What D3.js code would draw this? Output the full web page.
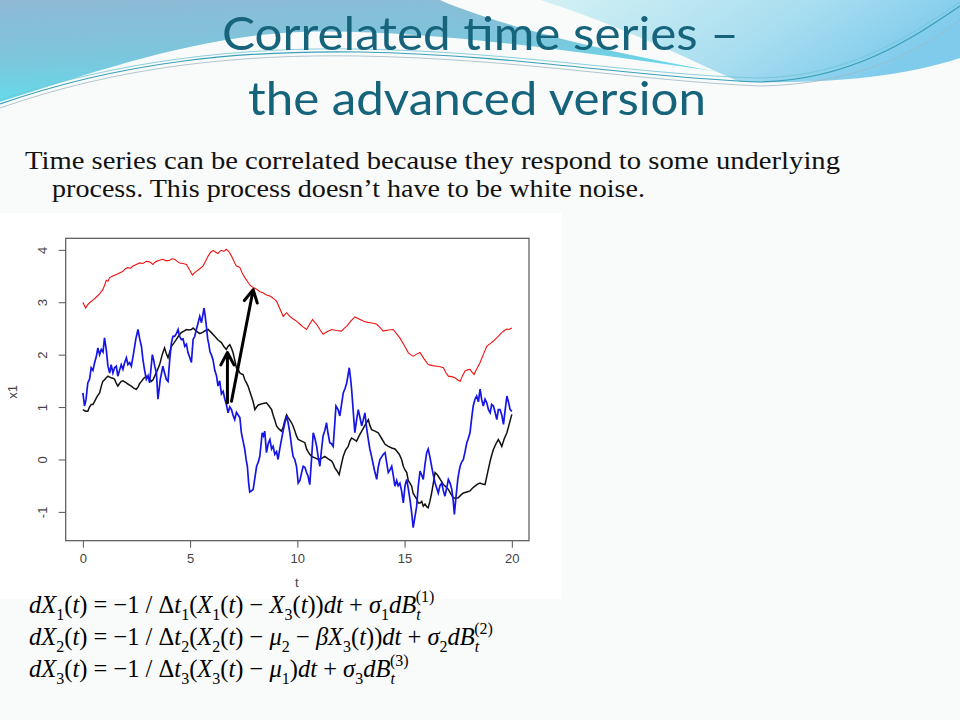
<!DOCTYPE html>
<html>
<head>
<meta charset="utf-8">
<script src="https://cdn.jsdelivr.net/npm/d3@7"></script>
<style>
  body { margin: 0; background: #fff; }
  svg { display: block; }
</style>
</head>
<body>
<div id="slide"></div>
<script>
// ---- data (t, value) ----
const xTicks = [0, 5, 10, 15, 20];
const yTicks = [-1, 0, 1, 2, 3, 4];

const redSeries = [
  [0,3.00],[0.13,2.89],[0.22,2.95],[0.31,2.99],[0.47,3.04],[0.63,3.10],[0.78,3.16],[0.93,3.24],
  [1.01,3.32],[1.09,3.42],[1.17,3.40],[1.25,3.47],[1.40,3.50],[1.56,3.53],[1.71,3.56],[1.87,3.59],
  [1.98,3.64],[2.10,3.66],[2.22,3.65],[2.33,3.69],[2.49,3.72],[2.65,3.75],[2.80,3.74],[2.96,3.78],
  [3.11,3.77],[3.27,3.72],[3.35,3.76],[3.43,3.78],[3.58,3.80],[3.73,3.82],[3.89,3.79],[4.05,3.80],
  [4.16,3.83],[4.28,3.82],[4.40,3.78],[4.51,3.75],[4.67,3.74],[4.83,3.72],[4.97,3.62],[5.11,3.52],
  [5.20,3.56],[5.29,3.59],[5.45,3.64],[5.60,3.69],[5.72,3.78],[5.84,3.88],[5.95,3.95],[6.07,3.99],
  [6.18,3.96],[6.30,3.93],[6.38,3.97],[6.46,3.99],[6.57,3.97],[6.69,4.01],[6.77,3.98],[6.85,3.94],
  [6.93,3.88],[7.00,3.82],[7.08,3.75],[7.16,3.69],[7.24,3.68],[7.32,3.66],[7.43,3.56],[7.55,3.47],
  [7.67,3.40],[7.78,3.33],[7.94,3.28],[8.10,3.25],[8.25,3.20],[8.40,3.18],[8.56,3.14],[8.72,3.12],
  [8.80,3.10],[8.92,3.06],[9.03,3.02],[9.18,2.88],[9.34,2.73],[9.50,2.80],[9.65,2.73],[9.81,2.68],
  [9.96,2.64],[10.12,2.58],[10.27,2.53],[10.43,2.48],[10.57,2.58],[10.71,2.67],[10.80,2.62],[10.90,2.58],
  [11.05,2.48],[11.20,2.39],[11.40,2.44],[11.60,2.48],[11.83,2.46],[12.06,2.45],[12.18,2.50],[12.30,2.54],
  [12.49,2.64],[12.68,2.72],[12.88,2.68],[13.07,2.64],[13.23,2.62],[13.39,2.61],[13.55,2.60],[13.70,2.58],
  [13.85,2.52],[14.00,2.45],[14.24,2.47],[14.47,2.48],[14.62,2.40],[14.78,2.32],[14.98,2.18],[15.17,2.04],
  [15.28,2.00],[15.40,1.97],[15.56,2.01],[15.72,2.04],[15.91,1.92],[16.10,1.81],[16.30,1.79],[16.50,1.78],
  [16.66,1.77],[16.81,1.75],[16.92,1.66],[17.04,1.59],[17.20,1.58],[17.35,1.56],[17.47,1.52],[17.59,1.49],
  [17.70,1.60],[17.82,1.69],[17.94,1.71],[18.05,1.72],[18.15,1.66],[18.24,1.62],[18.38,1.74],[18.52,1.85],
  [18.68,2.01],[18.83,2.16],[18.99,2.21],[19.14,2.26],[19.34,2.34],[19.53,2.42],[19.65,2.46],[19.77,2.49],
  [19.88,2.48],[20.00,2.51]
];

const blackSeries = [
  [0,0.95],[0.12,0.92],[0.23,0.92],[0.31,1.00],[0.39,1.05],[0.47,1.05],[0.55,1.11],[0.66,1.20],
  [0.78,1.27],[0.86,1.40],[0.93,1.49],[1.01,1.52],[1.09,1.56],[1.17,1.59],[1.25,1.57],[1.32,1.56],
  [1.40,1.55],[1.48,1.53],[1.56,1.45],[1.63,1.40],[1.71,1.45],[1.79,1.49],[1.87,1.50],[1.95,1.48],
  [2.03,1.46],[2.10,1.44],[2.18,1.42],[2.26,1.40],[2.37,1.36],[2.49,1.34],[2.57,1.38],[2.65,1.45],
  [2.73,1.49],[2.84,1.55],[2.96,1.59],[3.07,1.55],[3.19,1.49],[3.27,1.52],[3.35,1.59],[3.47,1.70],
  [3.58,1.81],[3.70,2.00],[3.81,2.13],[3.89,2.02],[3.97,1.94],[4.05,2.05],[4.13,2.16],[4.24,2.22],
  [4.36,2.29],[4.47,2.36],[4.59,2.42],[4.71,2.45],[4.83,2.48],[4.94,2.47],[5.06,2.48],[5.14,2.51],
  [5.29,2.45],[5.45,2.40],[5.60,2.43],[5.72,2.46],[5.84,2.48],[5.99,2.42],[6.15,2.35],[6.30,2.28],
  [6.46,2.23],[6.58,2.15],[6.69,2.10],[6.77,2.16],[6.85,2.19],[6.93,2.12],[7.00,2.04],[7.08,1.90],
  [7.16,1.75],[7.24,1.72],[7.32,1.65],[7.40,1.63],[7.47,1.62],[7.55,1.52],[7.63,1.46],[7.70,1.40],
  [7.78,1.30],[7.86,1.20],[7.94,1.10],[8.02,0.95],[8.10,1.00],[8.18,1.04],[8.25,1.05],[8.40,1.07],
  [8.56,1.08],[8.68,1.02],[8.80,0.95],[8.87,0.85],[8.95,0.75],[9.03,0.64],[9.10,0.60],[9.18,0.57],
  [9.26,0.54],[9.34,0.62],[9.42,0.75],[9.50,0.85],[9.57,0.80],[9.65,0.75],[9.73,0.70],[9.80,0.64],
  [9.88,0.55],[9.96,0.45],[10.04,0.38],[10.20,0.35],[10.35,0.32],[10.43,0.20],[10.50,0.15],[10.58,0.10],
  [10.66,0.06],[10.82,0.03],[10.97,0.00],[11.13,0.02],[11.28,0.06],[11.44,0.01],[11.60,-0.03],[11.67,-0.08],
  [11.75,-0.16],[11.85,-0.22],[11.95,-0.29],[12.05,-0.10],[12.14,0.06],[12.25,0.18],[12.37,0.25],[12.45,0.35],
  [12.53,0.41],[12.65,0.38],[12.76,0.35],[12.88,0.45],[13.00,0.54],[13.15,0.65],[13.31,0.76],[13.38,0.65],
  [13.46,0.57],[13.62,0.54],[13.77,0.51],[13.93,0.40],[14.09,0.29],[14.24,0.25],[14.40,0.22],[14.55,0.20],
  [14.63,0.16],[14.75,0.10],[14.86,0.00],[14.94,-0.13],[15.02,-0.20],[15.10,-0.25],[15.17,-0.40],[15.25,-0.45],
  [15.33,-0.51],[15.40,-0.65],[15.48,-0.70],[15.56,-0.75],[15.64,-0.83],[15.72,-0.83],[15.80,-0.80],[15.87,-0.89],
  [15.95,-0.85],[16.03,-0.90],[16.10,-0.92],[16.18,-0.80],[16.26,-0.64],[16.34,-0.45],[16.42,-0.25],[16.50,-0.28],
  [16.57,-0.32],[16.69,-0.40],[16.81,-0.48],[16.92,-0.52],[17.04,-0.57],[17.15,-0.65],[17.27,-0.73],[17.38,-0.74],
  [17.50,-0.73],[17.62,-0.68],[17.74,-0.64],[17.90,-0.62],[18.05,-0.60],[18.16,-0.55],[18.28,-0.51],[18.40,-0.47],
  [18.52,-0.45],[18.63,-0.47],[18.75,-0.48],[18.87,-0.25],[18.99,-0.03],[19.06,0.08],[19.14,0.19],[19.26,0.30],
  [19.37,0.38],[19.45,0.32],[19.53,0.25],[19.65,0.40],[19.77,0.51],[19.88,0.68],[20.00,0.86]
];

const blueSeries = [
  [0,1.27],[0.08,1.02],[0.15,1.15],[0.23,1.46],[0.31,1.53],[0.39,1.75],[0.47,1.70],[0.55,1.85],
  [0.63,1.97],[0.70,2.13],[0.78,2.00],[0.86,2.10],[0.94,2.05],[1.01,2.32],[1.09,2.10],[1.17,1.78],
  [1.25,1.65],[1.32,1.81],[1.40,1.65],[1.48,1.75],[1.56,1.78],[1.63,1.59],[1.71,1.70],[1.79,1.81],
  [1.87,1.72],[1.95,1.85],[2.03,1.94],[2.10,1.81],[2.18,1.85],[2.26,1.78],[2.37,2.04],[2.47,2.30],
  [2.57,2.48],[2.65,2.30],[2.73,2.16],[2.80,1.91],[2.88,1.70],[2.96,1.53],[3.04,1.60],[3.11,1.46],
  [3.18,1.75],[3.24,2.00],[3.30,1.90],[3.35,1.78],[3.43,1.65],[3.50,1.15],[3.56,1.35],[3.61,1.53],
  [3.67,1.65],[3.73,1.78],[3.81,1.65],[3.89,1.53],[3.97,1.49],[4.05,1.90],[4.13,2.23],[4.20,2.35],
  [4.28,2.35],[4.36,2.40],[4.44,2.48],[4.51,2.35],[4.59,2.29],[4.67,2.30],[4.75,2.16],[4.83,2.20],
  [4.90,2.04],[4.98,1.95],[5.06,1.85],[5.14,2.29],[5.22,2.35],[5.29,2.48],[5.37,2.60],[5.45,2.73],
  [5.53,2.61],[5.59,2.75],[5.65,2.89],[5.70,2.75],[5.76,2.54],[5.82,2.30],[5.87,2.20],[5.93,2.05],
  [5.99,2.00],[6.07,1.90],[6.15,1.70],[6.23,1.60],[6.30,1.40],[6.38,1.50],[6.46,1.25],[6.54,1.30],
  [6.62,1.15],[6.69,1.05],[6.77,0.89],[6.85,1.00],[6.93,0.95],[7.00,0.85],[7.08,0.76],[7.16,0.90],
  [7.24,0.85],[7.32,0.80],[7.39,0.51],[7.47,0.35],[7.55,0.19],[7.61,0.00],[7.67,-0.13],[7.73,-0.45],
  [7.78,-0.62],[7.86,-0.60],[7.94,-0.57],[8.02,-0.35],[8.10,-0.13],[8.18,-0.05],[8.25,0.06],[8.31,0.30],
  [8.36,0.51],[8.42,0.45],[8.48,0.54],[8.56,0.13],[8.64,0.30],[8.72,0.38],[8.80,0.20],[8.87,0.25],
  [8.95,0.10],[9.03,0.15],[9.10,0.00],[9.18,0.20],[9.26,0.38],[9.34,0.55],[9.42,0.70],[9.50,0.83],
  [9.57,0.70],[9.65,0.51],[9.73,0.25],[9.80,0.06],[9.88,0.00],[9.96,-0.13],[10.04,-0.45],[10.12,-0.40],
  [10.20,-0.25],[10.27,-0.13],[10.35,-0.15],[10.43,-0.25],[10.50,-0.32],[10.58,-0.48],[10.66,0.00],[10.74,0.51],
  [10.82,0.40],[10.90,0.25],[10.97,0.05],[11.05,-0.13],[11.13,0.20],[11.20,0.45],[11.28,0.55],[11.36,0.70],
  [11.43,0.50],[11.51,0.32],[11.59,0.30],[11.67,0.25],[11.73,0.60],[11.80,1.02],[11.90,0.95],[11.98,0.83],
  [12.06,1.05],[12.14,1.27],[12.22,1.35],[12.30,1.46],[12.36,1.60],[12.42,1.75],[12.48,1.55],[12.53,1.34],
  [12.60,0.95],[12.68,0.51],[12.76,0.75],[12.84,0.95],[12.92,0.80],[13.00,0.64],[13.07,0.75],[13.15,0.89],
  [13.23,0.60],[13.31,0.38],[13.38,0.20],[13.46,0.06],[13.54,-0.10],[13.62,-0.25],[13.70,-0.38],[13.77,-0.15],
  [13.85,0.00],[13.93,0.05],[14.01,0.10],[14.09,0.13],[14.16,-0.05],[14.24,-0.25],[14.32,-0.20],[14.40,-0.13],
  [14.47,-0.30],[14.55,-0.51],[14.63,-0.40],[14.70,-0.50],[14.78,-0.45],[14.86,-0.60],[14.94,-0.83],[15.02,-0.50],
  [15.10,-0.38],[15.17,-0.55],[15.25,-0.76],[15.33,-1.02],[15.40,-1.30],[15.48,-1.10],[15.56,-0.90],[15.64,-0.50],
  [15.72,-0.22],[15.80,-0.30],[15.87,-0.38],[15.95,-0.10],[16.03,0.13],[16.10,0.20],[16.18,0.05],[16.26,-0.13],
  [16.34,-0.30],[16.42,-0.45],[16.50,-0.55],[16.57,-0.64],[16.65,-0.50],[16.73,-0.45],[16.81,-0.60],[16.88,-0.70],
  [16.96,-0.55],[17.04,-0.38],[17.12,-0.45],[17.20,-0.57],[17.27,-0.80],[17.32,-1.05],[17.40,-0.70],[17.48,-0.38],
  [17.53,-0.25],[17.59,-0.13],[17.66,-0.05],[17.74,0.00],[17.82,0.15],[17.90,0.32],[17.97,0.40],[18.05,0.51],
  [18.13,0.80],[18.20,1.02],[18.28,1.15],[18.36,1.21],[18.44,1.10],[18.52,1.34],[18.59,1.15],[18.67,1.02],
  [18.75,1.15],[18.83,1.08],[18.91,0.95],[18.99,0.89],[19.06,1.05],[19.14,1.02],[19.22,0.90],[19.30,0.76],
  [19.37,0.95],[19.45,0.95],[19.53,0.85],[19.61,0.67],[19.69,0.95],[19.77,1.21],[19.84,1.10],[19.92,0.95],
  [20.00,0.92]
];

// arrows drawn on the plot: [from, to]
const arrows = [
  [[6.74, 1.08], [6.74, 2.04]],
  [[6.93, 1.11], [7.94, 3.24]]
];

const titleLines = ['Correlated time series \u2013', 'the advanced version'];
const bodyLines = [
  'Time series can be correlated because they respond to some underlying',
  'process. This process doesn\u2019t have to be white noise.'
];

// equation pieces: [text, kind]  kind: i = italic, n = normal, s = subscript, si = italic subscript, p = superscript
const equations = [
  [['dX','i'],['1','s'],['(','n'],['t','i'],[') = \u22121 / \u0394','n'],['t','i'],['1','s'],['(','n'],['X','i'],['1','s'],
   ['(','n'],['t','i'],[') \u2212 ','n'],['X','i'],['3','s'],['(','n'],['t','i'],['))','n'],['dt','i'],[' + ','n'],
   ['\u03c3','i'],['1','s'],['dB','i'],['t','si'],['(1)','p']],
  [['dX','i'],['2','s'],['(','n'],['t','i'],[') = \u22121 / \u0394','n'],['t','i'],['2','s'],['(','n'],['X','i'],['2','s'],
   ['(','n'],['t','i'],[') \u2212 ','n'],['\u03bc','i'],['2','s'],[' \u2212 ','n'],['\u03b2X','i'],['3','s'],['(','n'],['t','i'],
   ['))','n'],['dt','i'],[' + ','n'],['\u03c3','i'],['2','s'],['dB','i'],['t','si'],['(2)','p']],
  [['dX','i'],['3','s'],['(','n'],['t','i'],[') = \u22121 / \u0394','n'],['t','i'],['3','s'],['(','n'],['X','i'],['3','s'],
   ['(','n'],['t','i'],[') \u2212 ','n'],['\u03bc','i'],['1','s'],[')','n'],['dt','i'],[' + ','n'],
   ['\u03c3','i'],['3','s'],['dB','i'],['t','si'],['(3)','p']]
];

const width = 960, height = 720;
const svg = d3.select('#slide').append('svg')
    .attr('width', width)
    .attr('height', height);

// ---- slide background ----
const defs = svg.append('defs');
const gl = defs.append('linearGradient').attr('id', 'gLeft')
    .attr('x1', 0).attr('y1', 0).attr('x2', 0.3).attr('y2', 1);
gl.append('stop').attr('offset', '0%').attr('stop-color', '#8fb9d5');
gl.append('stop').attr('offset', '55%').attr('stop-color', '#7cc6dc');
gl.append('stop').attr('offset', '100%').attr('stop-color', '#5fe0ee');
const gr = defs.append('linearGradient').attr('id', 'gRight')
    .attr('x1', 0).attr('y1', 0).attr('x2', 1).attr('y2', 0.3);
gr.append('stop').attr('offset', '0%').attr('stop-color', '#d4f1f4');
gr.append('stop').attr('offset', '60%').attr('stop-color', '#a9def0');
gr.append('stop').attr('offset', '100%').attr('stop-color', '#7fcbec');

svg.append('rect').attr('width', width).attr('height', height).attr('fill', '#f9fafa');

svg.append('path')
    .attr('d', 'M0,0 L440,0 C480,18 580,48 720,72 C580,52 420,28 300,32 C200,36 100,70 0,102 Z')
    .attr('fill', 'url(#gLeft)');
svg.append('path')
    .attr('d', 'M540,0 L960,0 L960,58 C900,78 820,84 740,82 C690,60 620,25 540,0 Z')
    .attr('fill', 'url(#gRight)');

const swoosh = [
  {d: 'M0,104 C120,62 240,50 360,52 C520,55 640,78 760,82 C850,80 910,40 960,6', w: 1.2, c: '#3aa0b8'},
  {d: 'M0,100 C120,60 240,47 360,49 C520,52 640,75 760,78 C850,76 910,36 960,2', w: 0.8, c: '#6fc4d4'},
  {d: 'M0,108 C120,66 240,54 360,56 C520,59 640,81 760,86 C860,84 920,50 960,20', w: 0.8, c: '#9fb8c4'}
];
svg.selectAll('path.swoosh').data(swoosh).enter().append('path')
    .attr('class', 'swoosh')
    .attr('d', d => d.d)
    .attr('fill', 'none')
    .attr('stroke', d => d.c)
    .attr('stroke-width', d => d.w);

// ---- title + body ----
const titleX = [[222, 517], [248, 458]];
svg.selectAll('text.title').data(titleLines).enter().append('text')
    .attr('class', 'title')
    .attr('x', (d, i) => titleX[i][0])
    .attr('y', (d, i) => i === 0 ? 50 : 115)
    .attr('textLength', (d, i) => titleX[i][1])
    .attr('lengthAdjust', 'spacingAndGlyphs')
    .attr('font-family', 'Lato, "Open Sans", sans-serif')
    .attr('font-size', 47)
    .attr('fill', '#16637c')
    .text(d => d);

const bodyX = [[25, 815], [52, 593]];
svg.selectAll('text.body').data(bodyLines).enter().append('text')
    .attr('class', 'body')
    .attr('x', (d, i) => bodyX[i][0])
    .attr('y', (d, i) => i === 0 ? 169 : 197)
    .attr('textLength', (d, i) => bodyX[i][1])
    .attr('lengthAdjust', 'spacingAndGlyphs')
    .attr('font-family', '"Liberation Serif", "DejaVu Serif", serif')
    .attr('font-size', 25)
    .attr('fill', '#111')
    .text(d => d);

// ---- the R plot ----
svg.append('rect').attr('x', 0).attr('y', 213).attr('width', 562).attr('height', 386).attr('fill', '#fff');

const x = d3.scaleLinear().domain([-0.8, 20.8]).range([65.7, 529]);
const y = d3.scaleLinear().domain([-1.55, 4.22]).range([540.7, 238.3]);

const line = d3.line().x(d => x(d[0])).y(d => y(d[1]));

const plot = svg.append('g');

plot.append('path').datum(redSeries)
    .attr('d', line).attr('fill', 'none').attr('stroke', '#ee1111').attr('stroke-width', 1.1);
plot.append('path').datum(blackSeries)
    .attr('d', line).attr('fill', 'none').attr('stroke', '#111').attr('stroke-width', 1.5);
plot.append('path').datum(blueSeries)
    .attr('d', line).attr('fill', 'none').attr('stroke', '#1515e6').attr('stroke-width', 1.7);

// arrows with open heads
const headLen = 14, headAng = 28 * Math.PI / 180;
arrows.forEach(a => {
  const x0 = x(a[0][0]), y0 = y(a[0][1]), x1 = x(a[1][0]), y1 = y(a[1][1]);
  const ang = Math.atan2(y1 - y0, x1 - x0);
  const p = d3.path();
  p.moveTo(x0, y0); p.lineTo(x1, y1);
  p.moveTo(x1 - headLen * Math.cos(ang - headAng), y1 - headLen * Math.sin(ang - headAng));
  p.lineTo(x1, y1);
  p.lineTo(x1 - headLen * Math.cos(ang + headAng), y1 - headLen * Math.sin(ang + headAng));
  plot.append('path').attr('d', p.toString())
      .attr('fill', 'none').attr('stroke', '#000').attr('stroke-width', 3)
      .attr('stroke-linecap', 'round').attr('stroke-linejoin', 'round');
});

// box
plot.append('rect')
    .attr('x', x.range()[0]).attr('y', y.range()[1])
    .attr('width', x.range()[1] - x.range()[0])
    .attr('height', y.range()[0] - y.range()[1])
    .attr('fill', 'none').attr('stroke', '#555').attr('stroke-width', 1.2);

const fmt = d => String(d).replace('\u2212', '-');

const xAxis = plot.append('g')
    .attr('transform', 'translate(0,' + y.range()[0] + ')')
    .call(d3.axisBottom(x).tickValues(xTicks).tickFormat(fmt).tickSize(7).tickPadding(6.5).tickSizeOuter(0));
xAxis.select('.domain').remove();

const yAxis = plot.append('g')
    .attr('transform', 'translate(' + x.range()[0] + ',0)')
    .call(d3.axisLeft(y).tickValues(yTicks).tickFormat(fmt).tickSize(7).tickSizeOuter(0));
yAxis.select('.domain').remove();
yAxis.selectAll('.tick text')
    .attr('transform', 'rotate(-90)')
    .attr('x', 0).attr('y', -19).attr('dy', 0)
    .attr('text-anchor', 'middle');

[xAxis, yAxis].forEach(g => {
  g.selectAll('.tick line').attr('stroke', '#555');
  g.selectAll('.tick text')
      .attr('font-family', '"Liberation Sans", Arial, sans-serif')
      .attr('font-size', 13)
      .attr('fill', '#444');
});

plot.append('text')
    .attr('x', 296.7).attr('y', 587)
    .attr('text-anchor', 'middle')
    .attr('font-family', '"Liberation Sans", Arial, sans-serif')
    .attr('font-size', 13).attr('fill', '#444')
    .text('t');
plot.append('text')
    .attr('transform', 'translate(17,392) rotate(-90)')
    .attr('text-anchor', 'middle')
    .attr('font-family', '"Liberation Sans", Arial, sans-serif')
    .attr('font-size', 13).attr('fill', '#444')
    .text('x1');

// ---- equations ----
const eqSize = 24.5, eqBase = [613, 645, 677];
equations.forEach((eq, k) => {
  const txt = svg.append('text')
      .attr('x', 29).attr('y', eqBase[k])
      .attr('font-family', '"Liberation Serif", "Times New Roman", serif')
      .attr('font-size', eqSize)
      .attr('fill', '#000');
  let shift = 0;
  eq.forEach(([s, kind]) => {
    let target = 0, size = eqSize, italic = false, dx = 0;
    if (kind === 'i') italic = true;
    if (kind === 's') { target = 7; size = 16; }
    if (kind === 'si') { target = 7; size = 16; italic = true; }
    if (kind === 'p') { target = -11; size = 16; dx = -5; }
    txt.append('tspan')
        .attr('dy', target - shift)
        .attr('dx', dx)
        .attr('font-size', size)
        .attr('font-style', italic ? 'italic' : 'normal')
        .text(s);
    shift = target;
  });
});
</script>
</body>
</html>
